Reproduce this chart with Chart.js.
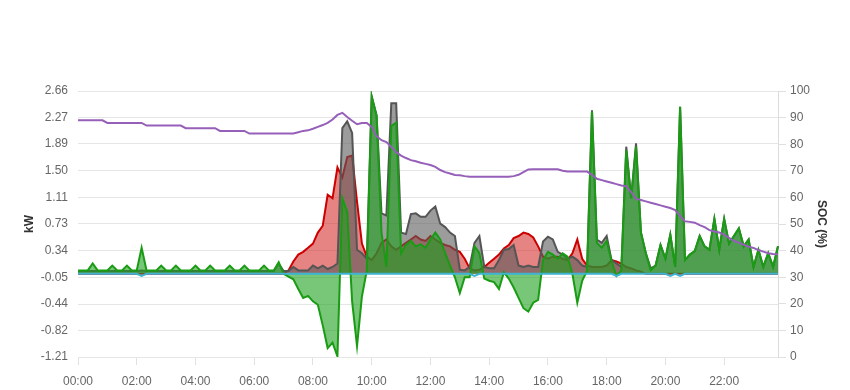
<!DOCTYPE html>
<html>
<head>
<meta charset="utf-8">
<script src="https://cdn.jsdelivr.net/npm/chart.js@4.4.1/dist/chart.umd.min.js"></script>
<style>
html,body{margin:0;padding:0;background:#fff;}
#wrap{width:850px;height:390px;position:relative;}
</style>
</head>
<body>
<div id="wrap"><canvas id="c" width="850" height="390"></canvas></div>
<script>
// x tick labels shown (every 2 hours)
const xTickLabels = ['00:00','02:00','04:00','06:00','08:00','10:00','12:00','14:00','16:00','18:00','20:00','22:00'];
// left axis tick labels (kW)
const yTickLabels = ['-1.21','-0.82','-0.44','-0.05','0.34','0.73','1.11','1.50','1.89','2.27','2.66'];
// right axis (SOC %)
const socMin = 0, socMax = 100, socStep = 10;

// categories: 10-minute slots of the day
const categories = [];
for (let h = 0; h < 24; h++) for (let m = 0; m < 60; m += 10)
  categories.push(String(h).padStart(2,'0') + ':' + String(m).padStart(2,'0'));

// green series (kW)
const greenVals = [
0.05,0.05,0.05,0.15,0.05,0.05, 0.05,0.12,0.05,0.05,0.12,0.05,
0.05,0.38,0.05,0.05,0.05,0.12, 0.05,0.05,0.12,0.05,0.05,0.05,
0.12,0.05,0.05,0.12,0.05,0.05, 0.05,0.12,0.05,0.05,0.12,0.05,
0.05,0.05,0.12,0.05,0.05,0.17, 0.0,-0.04,-0.08,-0.22,-0.35,-0.32,
-0.4,-0.45,-0.75,-1.08,-1.0,-1.2, 1.1,0.9,-0.4,-1.05,-0.33,0.05,
2.58,2.3,0.6,0.1,2.15,2.2, 0.3,0.42,0.48,0.4,0.43,0.38,
0.5,0.6,0.5,0.3,0.12,-0.05, -0.28,-0.05,-0.05,0.4,0.3,-0.07,
-0.1,-0.12,-0.22,0.02,-0.07,-0.2, -0.35,-0.5,-0.55,-0.42,-0.38,0.2,
0.32,0.28,0.22,0.3,0.25,0.0, -0.42,-0.1,0.05,2.36,0.45,0.38,
0.48,0.18,-0.03,0.05,1.8,1.1, 1.85,0.6,0.3,0.05,0.12,0.42,
0.22,0.57,0.1,2.43,0.2,0.28, 0.33,0.55,0.4,0.35,0.8,0.35,
0.8,0.44,0.55,0.66,0.4,0.5, 0.1,0.35,0.1,0.3,0.1,0.4
];

// grey series (kW)
const greyVals = [
0.04,0.04,0.04,0.04,0.04,0.04, 0.04,0.04,0.04,0.04,0.04,0.04,
0.04,0.05,0.04,0.04,0.04,0.04, 0.04,0.04,0.04,0.04,0.04,0.04,
0.04,0.04,0.04,0.04,0.04,0.04, 0.04,0.04,0.04,0.04,0.04,0.04,
0.04,0.04,0.04,0.04,0.04,0.15, 0.04,0.04,0.1,0.05,0.05,0.05,
0.12,0.08,0.12,0.07,0.1,0.15, 2.12,2.22,2.05,0.35,0.3,0.22,
2.58,2.3,0.88,0.85,2.48,2.48, 0.6,0.58,0.87,0.88,0.83,0.83,
0.92,0.98,0.73,0.68,0.6,0.55, 0.06,0.05,0.1,0.45,0.55,0.1,
0.08,0.08,0.2,0.35,0.36,0.42, 0.12,0.1,0.12,0.1,0.1,0.47,
0.54,0.5,0.32,0.28,0.22,0.25, 0.2,0.12,0.1,2.38,0.5,0.45,
0.55,0.2,0.15,0.1,1.85,1.1, 1.9,0.6,0.3,0.08,0.12,0.42,
0.22,0.57,0.1,2.43,0.2,0.28, 0.33,0.55,0.4,0.35,0.8,0.35,
0.8,0.44,0.55,0.66,0.4,0.5, 0.1,0.35,0.1,0.3,0.1,0.4
];

// red series (kW)
const redVals = [
0,0,0,0,0,0, 0,0,0,0,0,0,
0,0,0,0,0,0, 0,0,0,0,0,0,
0,0,0,0,0,0, 0,0,0,0,0,0,
0,0,0,0,0,0, 0,0.05,0.18,0.28,0.32,0.38,
0.44,0.6,0.7,1.15,1.1,1.55, 1.4,1.7,1.72,1.05,0.44,0.25,
0.2,0.3,0.45,0.5,0.4,0.35, 0.4,0.45,0.5,0.55,0.5,0.48,
0.55,0.5,0.45,0.42,0.4,0.35, 0.32,0.22,0.08,0.05,0.06,0.1,
0.16,0.22,0.28,0.37,0.42,0.52, 0.55,0.6,0.58,0.53,0.4,0.25,
0.22,0.25,0.25,0.22,0.2,0.3, 0.5,0.22,0.12,0.1,0.1,0.1,
0.12,0.2,0.18,0.15,0.1,0.08, 0.05,0.03,0,0,0,0,
0,0,0,0,0,0, 0,0,0,0,0,0,
0,0,0,0,0,0, 0,0,0,0,0,0
];

// cyan series (kW)
const cyanVals = [
0,0,0,0,0,0, 0,0,0,0,0,0,
0,-0.03,0,0,0,0, 0,0,0,0,0,0,
0,0,0,0,0,0, 0,0,0,0,0,0,
0,0,0,0,0,0, 0,0,0,0,0,0,
0,0,0,0,0,0, 0,0,0,0,0,0,
0,0,0,0,0,0, 0,0,0,0,0,0,
0,0,0,0,0,0, 0,0,0,-0.03,0,0,
0,0,0,0,0,0, 0,0,0,0,0,0,
0,0,0,0,0,0, 0,0,0,0,0,0,
0,0,-0.03,0,0,0, 0,0,0,0,0,0,
0,-0.03,0,-0.03,0,0, 0,0,0,0,0,0,
0,0,0,0,0,0, 0,0,0,0,0,0
];

// SOC (%)
const socVals = [
89,89,89,89,89,89, 88,88,88,88,88,88,
88,88,87,87,87,87, 87,87,87,87,86,86,
86,86,86,86,86,85, 85,85,85,85,85,84,
84,84,84,84,84,84, 84,84,84,84.5,85,85.2,
85.8,86.5,87.2,88,89.3,91, 91.8,90.2,88.8,87.5,88,88,
86.5,83,81.5,80.8,79,77, 75.7,74.8,74,73.6,73,72.6,
72.2,71.5,70.3,69.5,69,68.4, 68.3,68,67.8,67.8,67.8,67.8,
67.8,67.8,67.8,67.8,67.8,68, 68.5,69.5,70.5,70.6,70.6,70.6,
70.6,70.6,70.6,70,69.7,69.7, 69.7,69.7,69.7,68.5,67,66.5,
66,65.5,65,64.5,64.2,62, 59.5,59,58.5,58,57.5,57,
56.5,56,55.2,53,51,50.8, 50.5,49.6,48.8,47.7,47.2,46.8,
46,44.8,43.6,43,42.2,41.5, 41,40.2,39.6,39,38.7,38.6
];

const FONT = "'Liberation Sans', Arial, Helvetica, sans-serif";

new Chart(document.getElementById('c'), {
  type: 'line',
  data: {
    labels: categories,
    datasets: [
      { label: 'SOC', data: socVals, yAxisID: 'ySoc', order: 0,
        borderColor: 'rgb(150,95,185)', borderWidth: 2, fill: false, pointRadius: 0, tension: 0 },
      { label: 'Cyan', data: cyanVals, yAxisID: 'yKw', order: 1,
        borderColor: 'rgb(60,180,210)', borderWidth: 2, fill: false, pointRadius: 0, tension: 0 },
      { label: 'Green', data: greenVals, yAxisID: 'yKw', order: 2,
        borderColor: 'rgb(25,155,20)', backgroundColor: 'rgba(30,160,30,0.6)', borderWidth: 2,
        fill: 'origin', pointRadius: 0, tension: 0 },
      { label: 'Grey', data: greyVals, yAxisID: 'yKw', order: 3,
        borderColor: 'rgb(85,85,85)', backgroundColor: 'rgba(90,90,90,0.6)', borderWidth: 2,
        fill: 'origin', pointRadius: 0, tension: 0 },
      { label: 'Red', data: redVals, yAxisID: 'yKw', order: 4,
        borderColor: 'rgb(205,0,0)', backgroundColor: 'rgba(210,30,30,0.55)', borderWidth: 2,
        fill: 'origin', pointRadius: 0, tension: 0 }
    ]
  },
  options: {
    responsive: false,
    animation: false,
    layout: { padding: { top: 91, left: 18, right: 17, bottom: 0 } },
    plugins: { legend: { display: false }, tooltip: { enabled: false } },
    scales: {
      x: {
        type: 'category',
        afterBuildTicks: (axis) => {
          axis.ticks = axis.ticks.filter(t => xTickLabels.includes(categories[t.value]));
        },
        afterFit: (scale) => { scale.height = 33; },
        ticks: {
          autoSkip: false, maxRotation: 0, padding: 9, color: '#666',
          font: { family: FONT, size: 12 },
          callback: function (v) { return categories[v]; }
        },
        grid: { drawOnChartArea: false, drawTicks: true, tickLength: 8, color: '#e2e2e2' },
        border: { display: false }
      },
      yKw: {
        position: 'left',
        min: parseFloat(yTickLabels[0]),
        max: parseFloat(yTickLabels[yTickLabels.length - 1]),
        afterBuildTicks: (axis) => {
          axis.ticks = yTickLabels.map(s => ({ value: parseFloat(s) }));
        },
        afterFit: (scale) => { scale.width = 60; },
        ticks: {
          color: '#666', padding: 10, font: { family: FONT, size: 12 },
          callback: function (v, i) { return yTickLabels[i]; }
        },
        grid: { color: '#e6e6e6', drawTicks: false },
        border: { display: false },
        title: { display: true, text: 'kW', color: '#333', font: { family: FONT, size: 12, weight: 'bold' } }
      },
      ySoc: {
        position: 'right',
        min: socMin, max: socMax,
        afterFit: (scale) => { scale.width = 55; },
        ticks: { stepSize: socStep, color: '#666', padding: 4, font: { family: FONT, size: 12 } },
        grid: { drawOnChartArea: false, tickLength: 8, color: '#e0e0e0' },
        border: { display: true, color: '#dcdcdc' },
        title: { display: true, text: 'SOC (%)', color: '#333', font: { family: FONT, size: 12, weight: 'bold' } }
      }
    }
  }
});
</script>
</body>
</html>
